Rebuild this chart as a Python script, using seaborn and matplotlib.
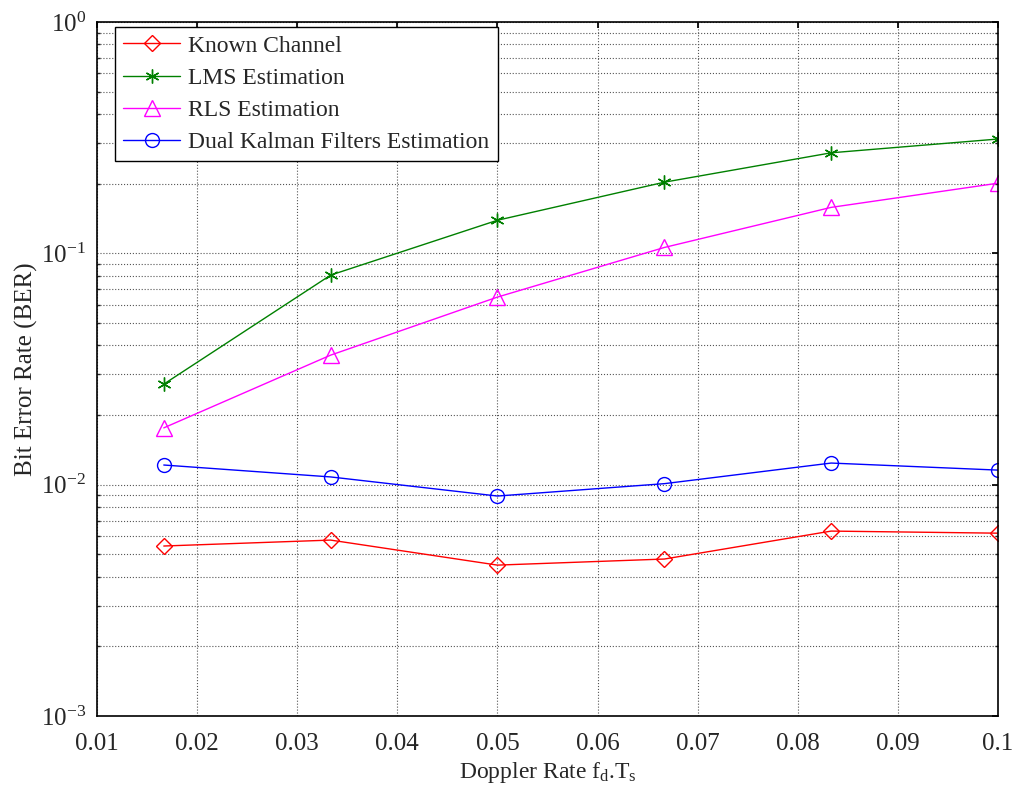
import numpy as np
import pandas as pd
import seaborn as sns
import matplotlib
matplotlib.use("Agg")
import matplotlib.pyplot as plt
from matplotlib.ticker import LogLocator, FixedLocator, NullFormatter

doppler = [1/60, 2/60, 3/60, 4/60, 5/60, 6/60]
known = [0.00543, 0.00576, 0.00449, 0.00477, 0.00630, 0.00617]
lms = [0.0272, 0.0805, 0.139, 0.203, 0.272, 0.312]
rls = [0.0176, 0.0363, 0.0647, 0.106, 0.158, 0.201]
kalman = [0.01216, 0.0108, 0.00893, 0.0101, 0.0124, 0.01156]
series_names = ["Known Channel", "LMS Estimation", "RLS Estimation",
                "Dual Kalman Filters Estimation"]
xticks = [0.01, 0.02, 0.03, 0.04, 0.05, 0.06, 0.07, 0.08, 0.09, 0.1]
xticklabels = ["0.01", "0.02", "0.03", "0.04", "0.05", "0.06", "0.07", "0.08", "0.09", "0.1"]

sns.set_theme(style="white")
plt.rcParams['font.family'] = ['Liberation Serif', 'DejaVu Serif']
plt.rcParams['mathtext.fontset'] = 'custom'
plt.rcParams['mathtext.rm'] = 'Liberation Serif'
plt.rcParams['mathtext.it'] = 'Liberation Serif'

df = pd.DataFrame({
    "x": doppler * 4,
    "y": known + lms + rls + kalman,
    "s": sum([[n] * len(doppler) for n in series_names], []),
})

fig = plt.figure(figsize=(10.14, 8.0), dpi=100)
ax = fig.add_axes([0.0957, 0.105, 0.8885, 0.8675])

colors = ["#ff0000", "#008000", "#ff00ff", "#0000ff"]
markers = ["D", (6, 2, 0), "^", "o"]
sizes = [8.5, 10, 12, 10]
for name, c, m, ms in zip(series_names, colors, markers, sizes):
    sub = df[df.s == name]
    sns.lineplot(data=sub, x="x", y="y", ax=ax, color=c, marker=m,
                 markersize=ms, markerfacecolor="none", markeredgecolor=c,
                 markeredgewidth=1.0, linewidth=1.0, label=name)

ax.set_yscale("log")
ax.set_xlim(0.01, 0.1)
ax.set_ylim(1e-3, 1)
ax.set_xticks(xticks)
ax.set_xticklabels(xticklabels)
ax.yaxis.set_major_locator(FixedLocator([1e-3, 1e-2, 1e-1, 1]))
ax.set_yticklabels([r"$10^{-3}$", r"$10^{-2}$", r"$10^{-1}$", r"$10^{0}$"])
ax.yaxis.set_minor_locator(LogLocator(base=10, subs=np.arange(2, 10), numticks=20))
ax.yaxis.set_minor_formatter(NullFormatter())

ax.grid(True, which="major", axis="both", color="#555555", linestyle=":", linewidth=0.8)
ax.grid(True, which="minor", axis="y", color="#555555", linestyle=":", linewidth=0.8)
ax.tick_params(axis="x", which="major", direction="in", length=4, labelsize=18,
               top=True, color="black", pad=12)
ax.tick_params(axis="y", which="major", direction="in", length=4, labelsize=18,
               right=True, color="black", pad=8)
ax.tick_params(axis="y", which="minor", direction="in", length=2, right=True, left=True)
for sp in ax.spines.values():
    sp.set_color("black")
    sp.set_linewidth(1.2)

ax.set_xlabel(r"Doppler Rate f$_\mathregular{d}$.T$_\mathregular{s}$", fontsize=17, labelpad=4)
ax.set_ylabel("Bit Error Rate (BER)", fontsize=18, labelpad=2)

leg = ax.legend(loc="upper left", bbox_to_anchor=(0.02, 0.993), borderaxespad=0,
                fontsize=17, frameon=True, fancybox=False, edgecolor="black",
                framealpha=1, handlelength=2.4, borderpad=0.35, labelspacing=0.45,
                handletextpad=0.35)
leg.get_frame().set_linewidth(1.0)

fig.savefig("out.png", dpi=100)
